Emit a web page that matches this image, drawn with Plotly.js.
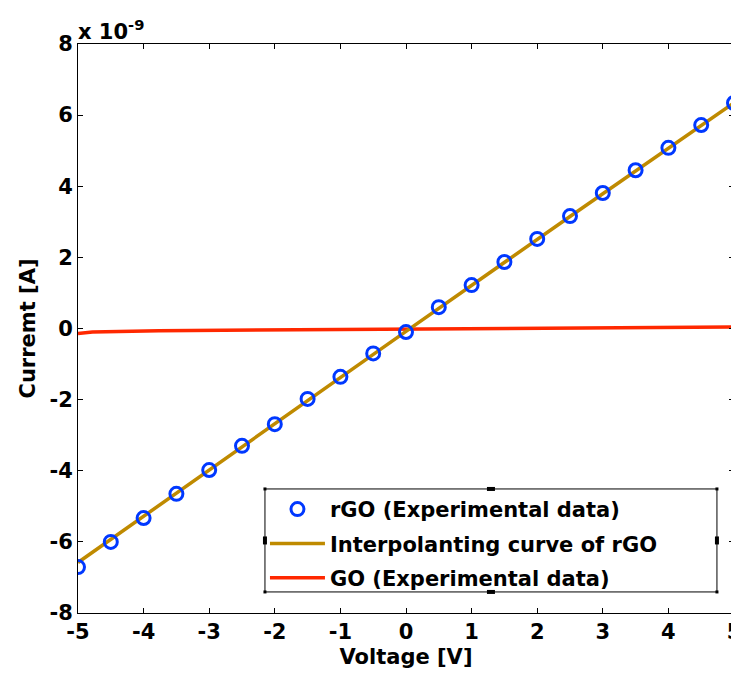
<!DOCTYPE html>
<html>
<head>
<meta charset="utf-8">
<script src="https://cdn.plot.ly/plotly-3.0.1.min.js"></script>
<style>
html,body{margin:0;padding:0;overflow:hidden;background:#fff;}
#chart{width:735px;height:677px;}
</style>
</head>
<body>
<div id="chart"></div>
<script>
// Data (current in units of 1e-9 A)
var voltage = [-5,-4.5,-4,-3.5,-3,-2.5,-2,-1.5,-1,-0.5,0,0.5,1,1.5,2,2.5,3,3.5,4,4.5,5];
var rGOcurrent = [-6.71,-6.00,-5.33,-4.65,-3.98,-3.30,-2.69,-1.98,-1.36,-0.70,-0.10,0.60,1.22,1.87,2.52,3.16,3.81,4.45,5.08,5.72,6.34];
var fitVoltage = [-5,-2.5,0,2.5,5];
var fitCurrent = [-6.58,-3.32,-0.08,3.15,6.35];
var GOvoltage = [-5,-4.78,-3.77,0,2.8,5];
var GOcurrent = [-0.14,-0.10,-0.06,-0.02,0.03,0.04];
var xTickVals = [-5,-4,-3,-2,-1,0,1,2,3,4,5];
var xTickText = ['-5','-4','-3','-2','-1','0','1','2','3','4','5'];
var yTickVals = [-8,-6,-4,-2,0,2,4,6,8];
var yTickText = ['-8','-6','-4','-2','0','2','4','6','8'];
var seriesNames = ['rGO (Experimental data)','Interpolanting curve of rGO','GO (Experimental data)'];

var traces = [
  {x: voltage, y: rGOcurrent, type:'scatter', mode:'markers', name: seriesNames[0], legendgroup:'a', legendrank:1,
   marker:{symbol:'circle-open', size:13, color:'#0038ff', line:{width:3, color:'#0038ff'}}},
  {x: fitVoltage, y: fitCurrent, type:'scatter', mode:'lines', name: seriesNames[1], legendgroup:'b', legendrank:2,
   line:{color:'#bf8a00', width:3.5}},
  {x: GOvoltage, y: GOcurrent, type:'scatter', mode:'lines', name: seriesNames[2], legendgroup:'c', legendrank:3,
   line:{color:'#ff2800', width:3.5}}
];
// draw GO beneath rGO
var data = [traces[2], traces[1], traces[0]];

function handle(xa, ya, w, h){
  return {type:'rect', xref:'paper', yref:'paper', xsizemode:'pixel', ysizemode:'pixel',
          xanchor:xa, yanchor:ya, x0:-w/2, x1:w/2, y0:-h/2, y1:h/2,
          fillcolor:'#000', line:{width:0}, layer:'above'};
}
var lx0 = 0.285, lx1 = 0.974, ly0 = 0.037, ly1 = 0.218;

var layout = {
  width:735, height:677,
  margin:{l:78, r:1, t:44, b:64},
  paper_bgcolor:'#fff', plot_bgcolor:'#fff',
  font:{family:'DejaVu Sans', size:21, color:'#000', weight:'bold'},
  showlegend:true,
  legend:{x:lx0, xanchor:'left', y:ly1, yanchor:'top', bgcolor:'rgba(0,0,0,0)', borderwidth:0,
          traceorder:'grouped', tracegroupgap:4, itemwidth:55,
          font:{family:'DejaVu Sans', size:21, color:'#000', weight:'bold'}},
  xaxis:{range:[-5,5], tickvals:xTickVals, ticktext:xTickText, ticks:'inside', ticklen:5, tickcolor:'#000',
         ticklabeloverflow:'allow',
         showline:true, linecolor:'#000', linewidth:1, mirror:'ticks', showgrid:false, zeroline:false,
         title:{text:'Voltage [V]', standoff:6, font:{family:'DejaVu Sans', size:21, weight:'bold'}}},
  yaxis:{range:[-8,8], tickvals:yTickVals, ticktext:yTickText, ticks:'inside', ticklen:5, tickcolor:'#000',
         ticklabeloverflow:'allow',
         showline:true, linecolor:'#000', linewidth:1, mirror:'ticks', showgrid:false, zeroline:false,
         title:{text:'Curremt [A]', standoff:8, font:{family:'DejaVu Sans', size:21, weight:'bold'}}},
  annotations:[{xref:'paper', yref:'paper', x:0, y:1, xanchor:'left', yanchor:'bottom', showarrow:false,
                text:'x 10<sup>-9</sup>', font:{family:'DejaVu Sans', size:21, weight:'bold'}, xshift:-2, yshift:-2}],
  shapes:[
    {type:'rect', xref:'paper', yref:'paper', x0:lx0, x1:lx1, y0:ly0, y1:ly1, fillcolor:'#fff',
     line:{color:'#000', width:1}, layer:'above'},
    handle(lx0, ly1, 3, 3), handle(lx1, ly1, 3, 3), handle(lx0, ly0, 3, 3), handle(lx1, ly0, 3, 3),
    handle((lx0+lx1)/2, ly1, 8, 4), handle((lx0+lx1)/2, ly0, 8, 4),
    handle(lx0, (ly0+ly1)/2, 4, 8), handle(lx1, (ly0+ly1)/2, 4, 8)
  ]
};
Plotly.newPlot('chart', data, layout, {displayModeBar:false, staticPlot:true});
</script>
</body>
</html>
